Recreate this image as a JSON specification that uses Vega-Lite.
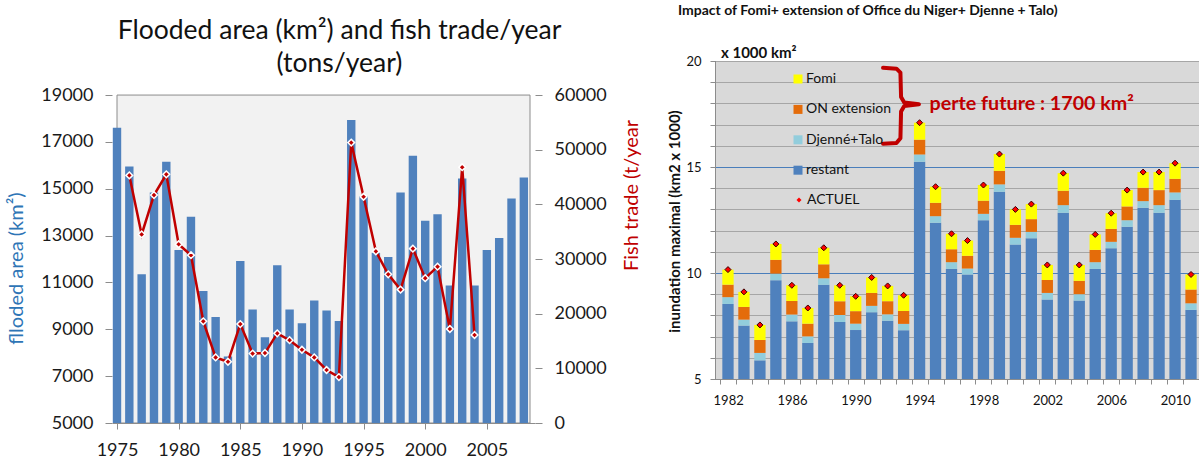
{
  "$schema": "https://vega.github.io/schema/vega-lite/v6.json",
  "background": "white",
  "padding": {"left": 6, "top": 3, "right": 0, "bottom": 0},
  "spacing": 25,
  "align": "none",
  "config": {"font": "Lato", "axis": {"labelFont": "Lato", "titleFont": "Lato"}, "legend": {"labelFont": "Lato"}, "title": {"font": "Lato"}},
  "datasets": {
    "flood": [
      {"year": 1975, "area": 17600, "trade": null},
      {"year": 1976, "area": 15950, "trade": 45300},
      {"year": 1977, "area": 11350, "trade": 34500},
      {"year": 1978, "area": 14840, "trade": 41700},
      {"year": 1979, "area": 16150, "trade": 45500},
      {"year": 1980, "area": 12390, "trade": 32700},
      {"year": 1981, "area": 13800, "trade": 30700},
      {"year": 1982, "area": 10630, "trade": 18600},
      {"year": 1983, "area": 9520, "trade": 12000},
      {"year": 1984, "area": 7840, "trade": 11200},
      {"year": 1985, "area": 11920, "trade": 18100},
      {"year": 1986, "area": 9850, "trade": 12700},
      {"year": 1987, "area": 8660, "trade": 12800},
      {"year": 1988, "area": 11730, "trade": 16400},
      {"year": 1989, "area": 9850, "trade": 15150},
      {"year": 1990, "area": 9260, "trade": 13400},
      {"year": 1991, "area": 10230, "trade": 12000},
      {"year": 1992, "area": 9800, "trade": 9700},
      {"year": 1993, "area": 9350, "trade": 8400},
      {"year": 1994, "area": 17940, "trade": 51300},
      {"year": 1995, "area": 14690, "trade": 41400},
      {"year": 1996, "area": 12270, "trade": 31400},
      {"year": 1997, "area": 12090, "trade": 27200},
      {"year": 1998, "area": 14840, "trade": 24400},
      {"year": 1999, "area": 16410, "trade": 31900},
      {"year": 2000, "area": 13630, "trade": 26500},
      {"year": 2001, "area": 13910, "trade": 28600},
      {"year": 2002, "area": 10870, "trade": 17200},
      {"year": 2003, "area": 15440, "trade": 46800},
      {"year": 2004, "area": 10870, "trade": 16100},
      {"year": 2005, "area": 12390, "trade": null},
      {"year": 2006, "area": 12900, "trade": null},
      {"year": 2007, "area": 14580, "trade": null},
      {"year": 2008, "area": 15480, "trade": null}
    ],
    "inund": [
      {"year": 1982, "cat": "restant", "v0": 5, "v": 8.54}, {"year": 1982, "cat": "Djenné+Talo", "v0": 8.54, "v": 8.86}, {"year": 1982, "cat": "ON extension", "v0": 8.86, "v": 9.45}, {"year": 1982, "cat": "Fomi", "v0": 9.45, "v": 10.16},
      {"year": 1983, "cat": "restant", "v0": 5, "v": 7.52}, {"year": 1983, "cat": "Djenné+Talo", "v0": 7.52, "v": 7.80}, {"year": 1983, "cat": "ON extension", "v0": 7.80, "v": 8.40}, {"year": 1983, "cat": "Fomi", "v0": 8.40, "v": 9.11},
      {"year": 1984, "cat": "restant", "v0": 5, "v": 5.88}, {"year": 1984, "cat": "Djenné+Talo", "v0": 5.88, "v": 6.23}, {"year": 1984, "cat": "ON extension", "v0": 6.23, "v": 6.84}, {"year": 1984, "cat": "Fomi", "v0": 6.84, "v": 7.55},
      {"year": 1985, "cat": "restant", "v0": 5, "v": 9.66}, {"year": 1985, "cat": "Djenné+Talo", "v0": 9.66, "v": 9.97}, {"year": 1985, "cat": "ON extension", "v0": 9.97, "v": 10.62}, {"year": 1985, "cat": "Fomi", "v0": 10.62, "v": 11.37},
      {"year": 1986, "cat": "restant", "v0": 5, "v": 7.72}, {"year": 1986, "cat": "Djenné+Talo", "v0": 7.72, "v": 8.04}, {"year": 1986, "cat": "ON extension", "v0": 8.04, "v": 8.68}, {"year": 1986, "cat": "Fomi", "v0": 8.68, "v": 9.42},
      {"year": 1987, "cat": "restant", "v0": 5, "v": 6.70}, {"year": 1987, "cat": "Djenné+Talo", "v0": 6.70, "v": 7.01}, {"year": 1987, "cat": "ON extension", "v0": 7.01, "v": 7.61}, {"year": 1987, "cat": "Fomi", "v0": 7.61, "v": 8.35},
      {"year": 1988, "cat": "restant", "v0": 5, "v": 9.44}, {"year": 1988, "cat": "Djenné+Talo", "v0": 9.44, "v": 9.75}, {"year": 1988, "cat": "ON extension", "v0": 9.75, "v": 10.41}, {"year": 1988, "cat": "Fomi", "v0": 10.41, "v": 11.19},
      {"year": 1989, "cat": "restant", "v0": 5, "v": 7.69}, {"year": 1989, "cat": "Djenné+Talo", "v0": 7.69, "v": 8.02}, {"year": 1989, "cat": "ON extension", "v0": 8.02, "v": 8.67}, {"year": 1989, "cat": "Fomi", "v0": 8.67, "v": 9.42},
      {"year": 1990, "cat": "restant", "v0": 5, "v": 7.31}, {"year": 1990, "cat": "Djenné+Talo", "v0": 7.31, "v": 7.61}, {"year": 1990, "cat": "ON extension", "v0": 7.61, "v": 8.20}, {"year": 1990, "cat": "Fomi", "v0": 8.20, "v": 8.90},
      {"year": 1991, "cat": "restant", "v0": 5, "v": 8.15}, {"year": 1991, "cat": "Djenné+Talo", "v0": 8.15, "v": 8.45}, {"year": 1991, "cat": "ON extension", "v0": 8.45, "v": 9.06}, {"year": 1991, "cat": "Fomi", "v0": 9.06, "v": 9.79},
      {"year": 1992, "cat": "restant", "v0": 5, "v": 7.75}, {"year": 1992, "cat": "Djenné+Talo", "v0": 7.75, "v": 8.05}, {"year": 1992, "cat": "ON extension", "v0": 8.05, "v": 8.67}, {"year": 1992, "cat": "Fomi", "v0": 8.67, "v": 9.39},
      {"year": 1993, "cat": "restant", "v0": 5, "v": 7.30}, {"year": 1993, "cat": "Djenné+Talo", "v0": 7.30, "v": 7.60}, {"year": 1993, "cat": "ON extension", "v0": 7.60, "v": 8.21}, {"year": 1993, "cat": "Fomi", "v0": 8.21, "v": 8.95},
      {"year": 1994, "cat": "restant", "v0": 5, "v": 15.25}, {"year": 1994, "cat": "Djenné+Talo", "v0": 15.25, "v": 15.59}, {"year": 1994, "cat": "ON extension", "v0": 15.59, "v": 16.29}, {"year": 1994, "cat": "Fomi", "v0": 16.29, "v": 17.09},
      {"year": 1995, "cat": "restant", "v0": 5, "v": 12.37}, {"year": 1995, "cat": "Djenné+Talo", "v0": 12.37, "v": 12.68}, {"year": 1995, "cat": "ON extension", "v0": 12.68, "v": 13.31}, {"year": 1995, "cat": "Fomi", "v0": 13.31, "v": 14.07},
      {"year": 1996, "cat": "restant", "v0": 5, "v": 10.19}, {"year": 1996, "cat": "Djenné+Talo", "v0": 10.19, "v": 10.51}, {"year": 1996, "cat": "ON extension", "v0": 10.51, "v": 11.12}, {"year": 1996, "cat": "Fomi", "v0": 11.12, "v": 11.85},
      {"year": 1997, "cat": "restant", "v0": 5, "v": 9.93}, {"year": 1997, "cat": "Djenné+Talo", "v0": 9.93, "v": 10.21}, {"year": 1997, "cat": "ON extension", "v0": 10.21, "v": 10.81}, {"year": 1997, "cat": "Fomi", "v0": 10.81, "v": 11.53},
      {"year": 1998, "cat": "restant", "v0": 5, "v": 12.49}, {"year": 1998, "cat": "Djenné+Talo", "v0": 12.49, "v": 12.79}, {"year": 1998, "cat": "ON extension", "v0": 12.79, "v": 13.41}, {"year": 1998, "cat": "Fomi", "v0": 13.41, "v": 14.15},
      {"year": 1999, "cat": "restant", "v0": 5, "v": 13.83}, {"year": 1999, "cat": "Djenné+Talo", "v0": 13.83, "v": 14.18}, {"year": 1999, "cat": "ON extension", "v0": 14.18, "v": 14.82}, {"year": 1999, "cat": "Fomi", "v0": 14.82, "v": 15.61},
      {"year": 2000, "cat": "restant", "v0": 5, "v": 11.34}, {"year": 2000, "cat": "Djenné+Talo", "v0": 11.34, "v": 11.66}, {"year": 2000, "cat": "ON extension", "v0": 11.66, "v": 12.27}, {"year": 2000, "cat": "Fomi", "v0": 12.27, "v": 13.00},
      {"year": 2001, "cat": "restant", "v0": 5, "v": 11.64}, {"year": 2001, "cat": "Djenné+Talo", "v0": 11.64, "v": 11.94}, {"year": 2001, "cat": "ON extension", "v0": 11.94, "v": 12.54}, {"year": 2001, "cat": "Fomi", "v0": 12.54, "v": 13.25},
      {"year": 2002, "cat": "restant", "v0": 5, "v": 8.75}, {"year": 2002, "cat": "Djenné+Talo", "v0": 8.75, "v": 9.06}, {"year": 2002, "cat": "ON extension", "v0": 9.06, "v": 9.67}, {"year": 2002, "cat": "Fomi", "v0": 9.67, "v": 10.38},
      {"year": 2003, "cat": "restant", "v0": 5, "v": 12.84}, {"year": 2003, "cat": "Djenné+Talo", "v0": 12.84, "v": 13.20}, {"year": 2003, "cat": "ON extension", "v0": 13.20, "v": 13.88}, {"year": 2003, "cat": "Fomi", "v0": 13.88, "v": 14.71},
      {"year": 2004, "cat": "restant", "v0": 5, "v": 8.70}, {"year": 2004, "cat": "Djenné+Talo", "v0": 8.70, "v": 9.00}, {"year": 2004, "cat": "ON extension", "v0": 9.00, "v": 9.63}, {"year": 2004, "cat": "Fomi", "v0": 9.63, "v": 10.38},
      {"year": 2005, "cat": "restant", "v0": 5, "v": 10.19}, {"year": 2005, "cat": "Djenné+Talo", "v0": 10.19, "v": 10.51}, {"year": 2005, "cat": "ON extension", "v0": 10.51, "v": 11.09}, {"year": 2005, "cat": "Fomi", "v0": 11.09, "v": 11.82},
      {"year": 2006, "cat": "restant", "v0": 5, "v": 11.17}, {"year": 2006, "cat": "Djenné+Talo", "v0": 11.17, "v": 11.47}, {"year": 2006, "cat": "ON extension", "v0": 11.47, "v": 12.08}, {"year": 2006, "cat": "Fomi", "v0": 12.08, "v": 12.82},
      {"year": 2007, "cat": "restant", "v0": 5, "v": 12.18}, {"year": 2007, "cat": "Djenné+Talo", "v0": 12.18, "v": 12.49}, {"year": 2007, "cat": "ON extension", "v0": 12.49, "v": 13.14}, {"year": 2007, "cat": "Fomi", "v0": 13.14, "v": 13.91},
      {"year": 2008, "cat": "restant", "v0": 5, "v": 13.08}, {"year": 2008, "cat": "Djenné+Talo", "v0": 13.08, "v": 13.39}, {"year": 2008, "cat": "ON extension", "v0": 13.39, "v": 14.02}, {"year": 2008, "cat": "Fomi", "v0": 14.02, "v": 14.76},
      {"year": 2009, "cat": "restant", "v0": 5, "v": 12.84}, {"year": 2009, "cat": "Djenné+Talo", "v0": 12.84, "v": 13.20}, {"year": 2009, "cat": "ON extension", "v0": 13.20, "v": 13.91}, {"year": 2009, "cat": "Fomi", "v0": 13.91, "v": 14.76},
      {"year": 2010, "cat": "restant", "v0": 5, "v": 13.45}, {"year": 2010, "cat": "Djenné+Talo", "v0": 13.45, "v": 13.80}, {"year": 2010, "cat": "ON extension", "v0": 13.80, "v": 14.44}, {"year": 2010, "cat": "Fomi", "v0": 14.44, "v": 15.18},
      {"year": 2011, "cat": "restant", "v0": 5, "v": 8.26}, {"year": 2011, "cat": "Djenné+Talo", "v0": 8.26, "v": 8.57}, {"year": 2011, "cat": "ON extension", "v0": 8.57, "v": 9.22}, {"year": 2011, "cat": "Fomi", "v0": 9.22, "v": 9.93}
    ],
    "brace": [
      {"ord": 1, "year": 1991.71, "v": 19.68},
      {"ord": 2, "year": 1992.55, "v": 19.64},
      {"ord": 3, "year": 1992.80, "v": 19.45},
      {"ord": 4, "year": 1992.84, "v": 18.30},
      {"ord": 5, "year": 1993.04, "v": 18.04},
      {"ord": 6, "year": 1993.96, "v": 17.96},
      {"ord": 7, "year": 1993.04, "v": 17.88},
      {"ord": 8, "year": 1992.84, "v": 17.62},
      {"ord": 9, "year": 1992.80, "v": 16.36},
      {"ord": 10, "year": 1992.55, "v": 16.13},
      {"ord": 11, "year": 1991.71, "v": 16.10}
    ],
    "notes": [
      {"label": "x 1000 km²", "year": 1981.56, "v": 20.38},
      {"label": "perte future : 1700 km²", "year": 1994.62, "v": 17.96}
    ]
  },
  "hconcat": [
    {
      "width": 423,
      "height": 362,
      "title": {"text": ["Flooded area (km²) and fish trade/year", "(tons/year)"], "fontSize": 26.5, "fontWeight": "normal", "color": "#111111", "lineHeight": 33, "offset": -16, "dx": 16},
      "view": {"stroke": null},
      "encoding": {
        "x": {"field": "year", "type": "quantitative", "scale": {"domain": [1975, 2008.5], "nice": false, "zero": false},
          "axis": {"values": [1975, 1980, 1985, 1990, 1995, 2000, 2005], "format": "d", "title": null, "grid": false, "labelFontSize": 18, "labelColor": "#1a1a1a", "tickSize": 6, "tickColor": "#8c8c8c", "domainColor": "#8c8c8c", "labelPadding": 12, "labelFlush": false, "labelOverlap": false}}
      },
      "layer": [
        {
          "encoding": {
            "y": {"field": "area", "type": "quantitative", "scale": {"domain": [5000, 20454], "nice": false, "zero": false},
              "axis": {"orient": "left", "values": [5000, 7000, 9000, 11000, 13000, 15000, 17000, 19000], "format": "d", "grid": false, "domain": false, "labelFontSize": 18, "labelColor": "#1a1a1a", "tickSize": 7, "tickColor": "#8c8c8c", "labelPadding": 12, "title": "flloded area (km²)", "titleColor": "#2e75b6", "titleFontSize": 20, "titleFontWeight": "normal", "titleAngle": -90, "titleAlign": "center", "titleBaseline": "middle", "titleX": -96, "titleY": 207}},
            "y2": {"datum": 5000}
          },
          "layer": [
            {
              "data": {"values": [{"year": 1975, "area": 19000}]},
              "mark": {"type": "rect", "fill": "#f2f2f2", "stroke": "#8c8c8c", "strokeWidth": 1},
              "encoding": {"x2": {"datum": 2008.5}}
            },
            {
              "data": {"name": "flood"},
              "mark": {"type": "bar", "size": 8.4, "color": "#4f81bd", "clip": true}
            }
          ]
        },
        {
          "data": {"name": "flood"},
          "encoding": {
            "y": {"field": "trade", "type": "quantitative", "scale": {"domain": [0, 66231], "nice": false},
              "axis": {"orient": "right", "values": [0, 10000, 20000, 30000, 40000, 50000, 60000], "format": "d", "grid": false, "domain": false, "labelFontSize": 18, "labelColor": "#1a1a1a", "tickSize": 7, "tickColor": "#8c8c8c", "labelPadding": 12, "title": "Fish  trade (t/year", "titleColor": "#c00000", "titleFontSize": 20, "titleFontWeight": "normal", "titleAngle": -90, "titleAlign": "center", "titleBaseline": "middle", "titleX": 96, "titleY": 134}}
          },
          "layer": [
            {"mark": {"type": "line", "color": "#c00000", "strokeWidth": 2.5}},
            {"mark": {"type": "point", "shape": "diamond", "filled": true, "fill": "#c00000", "stroke": "white", "strokeWidth": 1.5, "size": 45, "opacity": 1}}
          ]
        }
      ],
      "resolve": {"scale": {"y": "independent"}}
    },
    {
      "width": 489,
      "height": 318,
      "title": {"text": "Impact of Fomi+ extension of Office du Niger+ Djenne + Talo)", "fontSize": 14, "fontWeight": "bold", "color": "#111111", "anchor": "start", "frame": "group", "dx": -37, "offset": 28},
      "view": {"fill": "#d9d9d9", "stroke": "#1c1c2c"},
      "encoding": {
        "x": {"field": "year", "type": "quantitative", "scale": {"domain": [1981.5, 2011.5], "nice": false, "zero": false},
          "axis": {"values": [1981.5, 1982.5, 1983.5, 1984.5, 1985.5, 1986.5, 1987.5, 1988.5, 1989.5, 1990.5, 1991.5, 1992.5, 1993.5, 1994.5, 1995.5, 1996.5, 1997.5, 1998.5, 1999.5, 2000.5, 2001.5, 2002.5, 2003.5, 2004.5, 2005.5, 2006.5, 2007.5, 2008.5, 2009.5, 2010.5, 2011.5],
            "labelExpr": "(datum.value + 0.5) % 4 === 2 ? format(datum.value + 0.5, 'd') : ''", "labelOffset": 8.15, "labelFlush": false, "labelOverlap": false, "title": null, "grid": false, "labelFontSize": 13, "labelColor": "#111111", "tickSize": 5, "tickColor": "#8c8c8c", "domainColor": "#8c8c8c", "labelPadding": 10}},
        "y": {"field": "v", "type": "quantitative", "scale": {"domain": [5, 20], "nice": false, "zero": false},
          "axis": {"values": [5, 6, 7, 8, 9, 10, 11, 12, 13, 14, 15, 16, 17, 18, 19, 20], "labelExpr": "datum.value % 5 === 0 ? datum.label : ''", "labelOverlap": false, "labelFlush": false, "labelSeparation": 0, "grid": true, "gridColor": {"condition": {"test": "datum.value === 10 || datum.value === 15", "value": "#4a7ebb"}, "value": "#a6a6a6"}, "gridWidth": 1, "labelFontSize": 13, "labelColor": "#111111", "tickSize": 5, "tickColor": "#8c8c8c", "domainColor": "#8c8c8c", "labelPadding": 9, "title": "inundation maximal  (km2 x 1000)", "titleFontSize": 15, "titleFontWeight": "bold", "titleColor": "#111111", "titleAngle": -90, "titleAlign": "center", "titleBaseline": "middle", "titleX": -41, "titleY": 160}}
      },
      "layer": [
        {
          "data": {"name": "inund"},
          "mark": {"type": "bar", "size": 11.3},
          "encoding": {
            "y2": {"field": "v0"},
            "color": {"field": "cat", "type": "nominal", "scale": {"domain": ["Fomi", "ON extension", "Djenné+Talo", "restant"], "range": ["#ffff00", "#e46c0a", "#92cddc", "#4f81bd"]},
              "legend": {"orient": "none", "legendX": 76, "legendY": 11, "title": null, "symbolType": "square", "symbolSize": 81, "symbolStrokeWidth": 0, "labelFontSize": 14, "labelColor": "#111111", "rowPadding": 16.4, "labelOffset": 1, "padding": 0}}
          }
        },
        {
          "data": {"name": "inund"},
          "transform": [{"filter": "datum.cat === 'Fomi'"}],
          "mark": {"type": "point", "filled": true, "fill": "#ff0000", "stroke": "#3a0000", "strokeWidth": 1, "size": 36, "opacity": 1},
          "encoding": {
            "shape": {"datum": "ACTUEL", "scale": {"domain": ["ACTUEL"], "range": ["diamond"]},
              "legend": {"orient": "none", "legendX": 77, "legendY": 132, "title": null, "symbolSize": 25, "symbolFillColor": "#ff0000", "symbolStrokeColor": "#3a0000", "symbolStrokeWidth": 1, "labelFontSize": 14, "labelColor": "#111111", "labelOffset": 1, "padding": 0}}}
        },
        {
          "data": {"name": "brace"},
          "mark": {"type": "line", "color": "#c00000", "strokeWidth": 4, "strokeJoin": "round", "strokeCap": "round"},
          "encoding": {"order": {"field": "ord", "type": "quantitative"}}
        },
        {
          "data": {"name": "notes"},
          "transform": [{"filter": "datum.label === 'x 1000 km²'"}],
          "mark": {"type": "text", "align": "left", "baseline": "middle", "fontSize": 15, "fontWeight": "bold", "color": "#111111"},
          "encoding": {"text": {"field": "label"}}
        },
        {
          "data": {"name": "notes"},
          "transform": [{"filter": "datum.label !== 'x 1000 km²'"}],
          "mark": {"type": "text", "align": "left", "baseline": "middle", "fontSize": 19.7, "fontWeight": "bold", "color": "#c00000"},
          "encoding": {"text": {"field": "label"}}
        }
      ]
    }
  ],
  "resolve": {"scale": {"color": "independent", "shape": "independent"}, "legend": {"color": "independent", "shape": "independent"}}
}
